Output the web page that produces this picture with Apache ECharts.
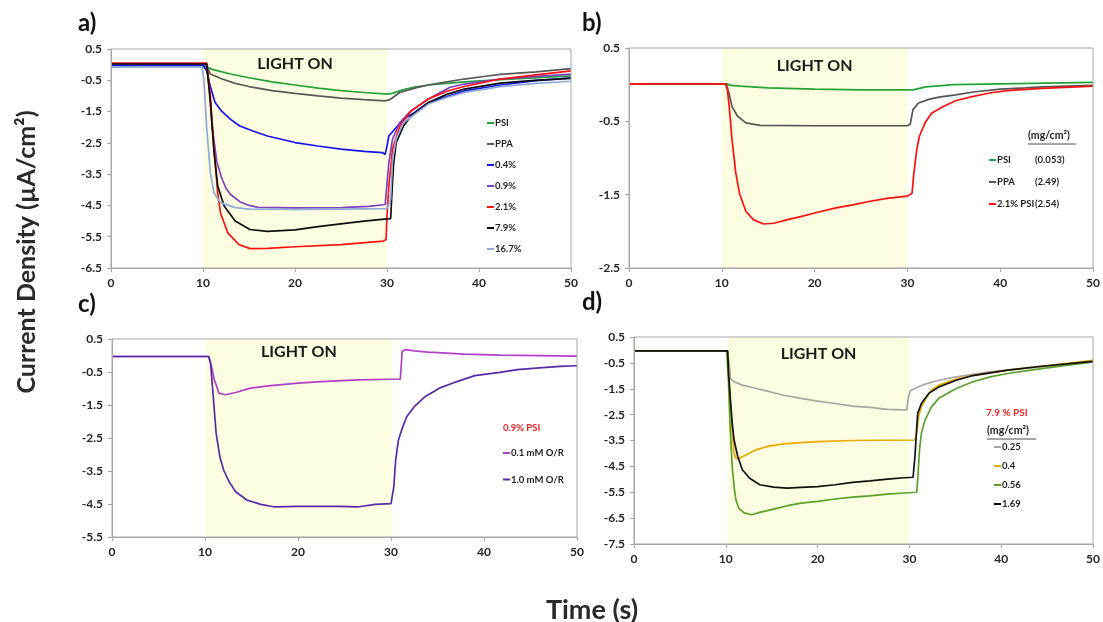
<!DOCTYPE html>
<html><head><meta charset="utf-8">
<script src="https://cdn.jsdelivr.net/npm/echarts@6.0.0/dist/echarts.min.js"></script>
<style>html,body{margin:0;padding:0;background:#fff}#c{width:1103px;height:622px}</style>
</head><body><div id="c"></div>
<script>
// ---------- DATA ----------
const xTicks = [0, 10, 20, 30, 40, 50];
const lightA = [10, 30], lightB = [10, 30], lightC = [10.1, 30.1], lightD = [10.2, 30.0];

// panel a
const aNames = ['PSI', 'PPA', '0.4%', '0.9%', '2.1%', '7.9%', '16.7%'];
const aPSI = [[0,-0.07],[5,-0.06],[9.9,-0.05],[10.3,-0.07],[11,-0.15],[13,-0.3],[15,-0.42],[17.5,-0.55],[20,-0.65],[22.5,-0.75],[25,-0.83],[27.5,-0.89],[30,-0.94],[30.6,-0.92],[31.8,-0.8],[33,-0.72],[34.5,-0.65],[36.5,-0.6],[38.5,-0.55],[42.3,-0.48],[46,-0.42],[50,-0.36]];
const aPPA = [[0,0.02],[10,0.02],[10.4,-0.05],[10.8,-0.3],[12,-0.45],[13.5,-0.6],[15,-0.7],[17.5,-0.83],[20,-0.92],[22.5,-1.0],[25,-1.07],[27.5,-1.12],[29.8,-1.16],[30.3,-1.12],[31.4,-0.89],[33,-0.75],[34.5,-0.65],[36.5,-0.55],[38.4,-0.46],[40.5,-0.38],[42.3,-0.31],[46.2,-0.23],[50,-0.13]];
const a04 = [[0,-0.02],[10,-0.02],[10.4,-0.2],[10.8,-0.7],[11.3,-1.2],[12,-1.48],[13,-1.75],[14,-1.96],[15.5,-2.13],[17,-2.28],[20,-2.49],[22.5,-2.6],[25,-2.7],[27.5,-2.77],[29.5,-2.81],[29.8,-2.87],[30,-2.6],[30.2,-2.28],[31,-2.01],[31.8,-1.74],[33,-1.53],[34.5,-1.21],[36.8,-1.0],[38.4,-0.84],[42.3,-0.65],[46.2,-0.51],[50,-0.42]];
const a09 = [[0,0.02],[10.4,0.02],[10.7,-0.8],[11,-2.0],[11.5,-3.1],[12,-3.6],[12.5,-3.95],[13,-4.15],[14,-4.38],[15,-4.5],[16,-4.56],[20,-4.58],[25,-4.57],[28,-4.53],[29.8,-4.47],[30.2,-3.13],[30.6,-2.38],[31.4,-1.85],[32.6,-1.48],[34.5,-1.1],[36.8,-0.73],[38.4,-0.62],[42.3,-0.46],[46,-0.38],[50,-0.3]];
const a21 = [[0,0.05],[10.4,0.05],[10.8,-1.0],[11.2,-2.7],[11.6,-4.1],[11.9,-4.74],[12.7,-5.38],[13.9,-5.75],[15.1,-5.88],[17,-5.87],[20,-5.82],[25,-5.75],[29.6,-5.64],[29.9,-5.59],[30,-4.84],[30.2,-3.88],[30.6,-2.7],[31.4,-1.96],[32.6,-1.48],[34.5,-1.1],[36.5,-0.85],[38.4,-0.7],[42.3,-0.46],[46.2,-0.33],[50,-0.2]];
const a79 = [[0,0.02],[10.4,0.02],[10.8,-1.2],[11.2,-2.8],[11.6,-3.88],[12.3,-4.52],[13.5,-5.0],[15.1,-5.27],[17,-5.33],[20,-5.28],[22.5,-5.18],[25.2,-5.08],[27.5,-5.0],[30,-4.93],[30.4,-4.92],[30.5,-4.31],[30.7,-3.24],[31,-2.49],[31.8,-1.96],[32.6,-1.64],[34.5,-1.21],[36.5,-0.95],[38.4,-0.78],[42.3,-0.59],[46,-0.5],[50,-0.44]];
const a167 = [[0,-0.07],[9.9,-0.07],[10.1,-0.5],[10.4,-2.0],[10.8,-3.45],[11.2,-4.1],[11.9,-4.41],[13.5,-4.57],[15,-4.62],[20,-4.63],[25,-4.62],[30,-4.6],[30.4,-4.3],[30.6,-3.03],[31,-2.38],[31.8,-1.85],[34.5,-1.26],[36.5,-1.05],[38.4,-0.89],[42.3,-0.7],[46.2,-0.6],[50,-0.53]];

// panel b
const bNames = ['PSI', 'PPA', '2.1% PSI'];
const bLoads = ['(0.053)', '(2.49)', '(2.54)'];
const bPSI = [[0,0.01],[10.5,0.01],[11,-0.01],[12,-0.02],[15,-0.045],[20,-0.06],[25,-0.07],[30,-0.07],[30.6,-0.07],[32,-0.03],[35,0.0],[40,0.01],[45,0.02],[50,0.03]];
const bPPA = [[0,0.01],[10.5,0.01],[10.76,-0.11],[11.1,-0.3],[11.7,-0.43],[12.6,-0.52],[14.1,-0.555],[20,-0.56],[25,-0.56],[30,-0.56],[30.3,-0.54],[30.6,-0.34],[31.2,-0.25],[32.3,-0.2],[33.4,-0.17],[35.2,-0.14],[37.1,-0.1],[40,-0.06],[42.7,-0.045],[44.5,-0.03],[50,-0.01]];
const b21 = [[0,0.01],[10.4,0.01],[10.6,-0.07],[10.8,-0.3],[11.1,-0.75],[11.5,-1.2],[11.9,-1.48],[12.6,-1.73],[13.4,-1.84],[14.5,-1.9],[15.6,-1.89],[17.1,-1.84],[18.5,-1.8],[20,-1.75],[22.3,-1.68],[24.1,-1.64],[26,-1.59],[27.8,-1.55],[30,-1.52],[30.5,-1.48],[30.7,-1.2],[31,-0.89],[31.3,-0.7],[31.9,-0.52],[32.6,-0.39],[33.8,-0.3],[35.2,-0.22],[37.1,-0.16],[39,-0.11],[40.8,-0.08],[44.5,-0.05],[48.2,-0.03],[50,-0.02]];

// panel c
const cNames = ['0.1 mM O/R', '1.0 mM O/R'];
const c01 = [[0,-0.03],[10.4,-0.03],[10.7,-0.33],[11,-0.74],[11.2,-0.89],[11.5,-1.14],[12.2,-1.19],[13.3,-1.12],[14.9,-0.99],[16.8,-0.92],[20,-0.84],[22.5,-0.79],[26.4,-0.74],[30,-0.72],[31,-0.72],[31.2,0.12],[31.6,0.18],[32.5,0.14],[34,0.1],[37.9,0.04],[41.7,0.01],[50,-0.02]];
const c10 = [[0,-0.03],[10.4,-0.03],[10.6,-0.23],[10.8,-0.94],[11,-1.65],[11.2,-2.36],[11.6,-3.07],[12,-3.47],[12.6,-3.83],[13.3,-4.13],[14.5,-4.38],[16,-4.51],[17.5,-4.59],[20,-4.57],[24.5,-4.57],[26.4,-4.59],[28.3,-4.51],[30,-4.49],[30.2,-4.44],[30.3,-3.98],[30.5,-3.17],[30.8,-2.56],[31.2,-2.21],[31.7,-1.85],[32.5,-1.55],[33.7,-1.24],[35.2,-0.99],[37.1,-0.79],[39,-0.61],[41.7,-0.51],[43.6,-0.43],[45.6,-0.38],[48.2,-0.33],[50,-0.31]];

// panel d
const dNames = ['0.25', '0.4', '0.56', '1.69'];
const d025 = [[0,-0.04],[10.2,-0.04],[10.4,-0.66],[10.5,-1.1],[10.9,-1.23],[11.8,-1.36],[12.9,-1.45],[14.4,-1.58],[16.3,-1.75],[18.2,-1.87],[20,-1.98],[21.9,-2.07],[23.8,-2.17],[25.7,-2.22],[27.6,-2.3],[29.4,-2.32],[29.7,-2.32],[29.9,-1.81],[30.1,-1.58],[30.6,-1.49],[31.7,-1.32],[33.2,-1.17],[35.1,-1.04],[36.9,-0.94],[38.8,-0.85],[40.7,-0.78],[44.4,-0.66],[50,-0.46]];
const d04 = [[0,-0.04],[10.2,-0.04],[10.3,-0.66],[10.5,-1.94],[10.7,-3.22],[10.9,-3.99],[11.1,-4.19],[11.4,-4.19],[12.2,-4.06],[13.3,-3.86],[14.4,-3.74],[16.3,-3.63],[18.2,-3.58],[20,-3.54],[23.8,-3.5],[30.6,-3.48],[30.8,-3.22],[31,-2.58],[31.3,-2.2],[31.7,-1.94],[32.4,-1.55],[33.2,-1.36],[35.1,-1.13],[36.9,-0.98],[40.7,-0.78],[44.4,-0.63],[50,-0.4]];
const d056 = [[0,-0.04],[10.1,-0.04],[10.3,-1.3],[10.5,-3.22],[10.7,-4.51],[10.9,-5.28],[11.1,-5.79],[11.4,-6.11],[12,-6.3],[12.8,-6.37],[13.7,-6.28],[15.2,-6.15],[16.7,-6.02],[18.2,-5.92],[20,-5.85],[21.9,-5.76],[23.8,-5.69],[25.7,-5.64],[27.6,-5.57],[29.4,-5.53],[30.8,-5.5],[30.9,-5.02],[31.1,-3.86],[31.3,-3.22],[31.7,-2.71],[32.4,-2.2],[33.2,-1.87],[35.1,-1.49],[36.9,-1.23],[38.8,-1.04],[40.7,-0.91],[44.4,-0.72],[50,-0.46]];
const d169 = [[0,-0.04],[10.2,-0.04],[10.3,-0.91],[10.5,-1.94],[10.7,-2.84],[10.9,-3.48],[11.3,-4.12],[11.8,-4.63],[12.6,-4.96],[13.7,-5.21],[15.2,-5.3],[16.7,-5.34],[18.2,-5.31],[20,-5.28],[21.9,-5.21],[23.8,-5.12],[25.7,-5.06],[27.6,-4.99],[29.4,-4.94],[30.4,-4.92],[30.6,-4.12],[30.8,-2.97],[30.9,-2.45],[31.3,-2.07],[32.1,-1.68],[33.2,-1.43],[35.1,-1.17],[36.9,-0.99],[40.7,-0.78],[44.4,-0.63],[50,-0.44]];

const yRanges = [[-6.5, 0.5], [-2.5, 0.5], [-5.5, 0.5], [-7.5, 0.5]];

// ---------- STYLE ----------
const FONT = 'Lato, "Open Sans", sans-serif';
const AX = '#a6a6a6';
const grids = [
  {left: 111, top: 49, width: 460, height: 219},
  {left: 629, top: 48, width: 467, height: 220},
  {left: 112, top: 339, width: 465, height: 198},
  {left: 634, top: 337, width: 462, height: 207}
];
const aColors = ['#22a33a', '#595959', '#1414f0', '#7f3fbf', '#ff1010', '#0d0d0d', '#8eaadb'];
const bColors = ['#22a33a', '#555555', '#ff1010'];
const cColors = ['#b040c8', '#5a2aa6'];
const dColors = ['#a6a6a6', '#eaa800', '#5aa02c', '#111111'];

const chart = echarts.init(document.getElementById('c'), null, {renderer: 'canvas'});

function xAx(i) {
  return {gridIndex: i, type: 'value', min: xTicks[0], max: xTicks[xTicks.length - 1], interval: xTicks[1] - xTicks[0],
    z: 6,
    axisLine: {show: true, onZero: false, lineStyle: {color: AX}}, axisTick: {show: true, length: 4, lineStyle: {color: AX}},
    splitLine: {show: false},
    axisLabel: {fontFamily: FONT, fontWeight: 'bold', fontSize: 12, color: '#262626', margin: 9}};
}
function yAx(i) {
  return {gridIndex: i, type: 'value', min: yRanges[i][0], max: yRanges[i][1], interval: 1,
    z: 6,
    axisLine: {show: true, onZero: false, lineStyle: {color: AX}}, axisTick: {show: true, length: 4, lineStyle: {color: AX}},
    splitLine: {show: false},
    axisLabel: {fontFamily: FONT, fontWeight: 'bold', fontSize: 12, color: '#262626', margin: 9,
      formatter: v => v.toFixed(1)}};
}
function light(range, dist) {
  return {silent: true, itemStyle: {color: '#fdfde1'},
    label: {show: true, position: 'insideTop', distance: dist, formatter: 'LIGHT ON',
      fontFamily: FONT, fontWeight: 'bold', fontSize: 16, color: '#1a1a1a'},
    data: [[{xAxis: range[0]}, {xAxis: range[1]}]]};
}
function line(name, data, color, gi, mark) {
  const s = {name, type: 'line', xAxisIndex: gi, yAxisIndex: gi, data, showSymbol: false, symbol: 'none',
    color, lineStyle: {color, width: 1.7}, z: 2};
  if (mark) s.markArea = mark;
  return s;
}

const series = [];
const aData = [aPSI, aPPA, a04, a09, a21, a79, a167];
aData.forEach((d, k) => series.push(line(aNames[k], d, aColors[k], 0, k === 0 ? light(lightA, 7) : null)));
const bData = [bPSI, bPPA, b21];
const bSeriesNames = bNames.map((n, k) => n + ' ' + bLoads[k]);
bData.forEach((d, k) => series.push(line(bSeriesNames[k], d, bColors[k], 1, k === 0 ? light(lightB, 10) : null)));
const cData = [c01, c10];
cData.forEach((d, k) => series.push(line(cNames[k], d, cColors[k], 2, k === 0 ? light(lightC, 5) : null)));
const dData = [d025, d04, d056, d169];
dData.forEach((d, k) => series.push(line(dNames[k], d, dColors[k], 3, k === 0 ? light(lightD, 9) : null)));

const legTxt = {fontFamily: FONT, fontWeight: 'bold', fontSize: 9.5, color: '#1e1e1e'};
function legend(data, left, top, gap, extra) {
  return Object.assign({orient: 'vertical', left, top, data, icon: 'rect', itemWidth: 7, itemHeight: 2,
    itemGap: gap, padding: 0, selectedMode: false,
    textStyle: Object.assign({lineHeight: 12, padding: [0, 0, 0, -4]}, legTxt)}, extra || {});
}

const txt = (text, x, y, size, extra) => ({type: 'text', left: x, top: y,
  style: Object.assign({text, font: 'bold ' + size + 'px ' + FONT, fill: '#222'}, extra || {})});

chart.setOption({
  animation: false,
  backgroundColor: '#ffffff',
  grid: grids.map(g => Object.assign({show: true, z: 5, borderColor: AX, borderWidth: 1, backgroundColor: 'rgba(0,0,0,0)'}, g)),
  xAxis: [0, 1, 2, 3].map(xAx),
  yAxis: [0, 1, 2, 3].map(yAx),
  legend: [
    legend(aNames, 487, 117, 9),
    legend(bSeriesNames, 989, 154, 10, {formatter: n => {
      const k = bSeriesNames.indexOf(n);
      return '{n|' + bNames[k] + '}{v|' + bLoads[k] + '}';
    }, textStyle: Object.assign({lineHeight: 12, padding: [0, 0, 0, -4],
      rich: {n: Object.assign({width: 38}, legTxt), v: Object.assign({}, legTxt)}}, legTxt)}),
    legend(cNames, 503, 447, 14.5),
    legend(dNames, 994, 441, 7)
  ],
  series,
  graphic: [
    txt('a)', 78, 11, 24, {fill: '#111'}),
    txt('b)', 582, 11, 24, {fill: '#111'}),
    txt('c)', 78, 292, 24, {fill: '#111'}),
    txt('d)', 582, 290, 24, {fill: '#111'}),
    {type: 'text', x: 39, y: 252, rotation: Math.PI / 2, style: {text: 'Current Density (\u00b5A/cm\u00b2)',
      font: 'bold 25px ' + FONT, fill: '#2a2a2a', textAlign: 'center', textVerticalAlign: 'bottom'}},
    {type: 'text', x: 592, y: 610, style: {text: 'Time (s)', font: 'bold 27px ' + FONT, fill: '#2a2a2a',
      textAlign: 'center', textVerticalAlign: 'middle'}},
    // legend headers
    txt('(mg/cm\u00b2)', 1028, 130, 10.5),
    {type: 'line', shape: {x1: 1028, y1: 144, x2: 1076, y2: 144}, style: {stroke: '#222', lineWidth: 0.8}},
    txt('0.9% PSI', 503, 423, 9.5, {fill: '#ff2020'}),
    txt('7.9 % PSI', 986, 408, 10, {fill: '#ff2020'}),
    txt('(mg/cm\u00b2)', 987, 425, 10.5),
    {type: 'line', shape: {x1: 987, y1: 439, x2: 1036, y2: 439}, style: {stroke: '#222', lineWidth: 0.8}}
  ]
});
</script>
</body></html>
